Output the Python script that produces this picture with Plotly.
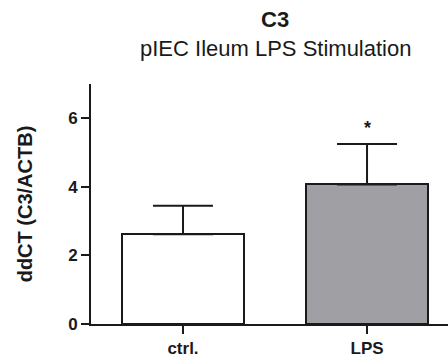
import plotly.graph_objects as go

# Group means and upper SEM for C3 expression
groups = ["ctrl.", "LPS"]
means = [2.62, 4.07]
sem = [0.83, 1.18]
bar_colors = ["#ffffff", "#a09fa4"]
y_ticks = [0, 2, 4, 6]
significance = ["", "*"]

FONT = "Liberation Sans, Arial, sans-serif"
INK = "#1a1a1a"

fig = go.Figure()
fig.add_trace(go.Bar(
    x=groups,
    y=means,
    width=0.664,
    marker=dict(color=bar_colors, line=dict(color=INK, width=2)),
    error_y=dict(type="data", array=sem, arrayminus=[0] * len(sem), symmetric=False,
                 color=INK, thickness=2, width=30),
    showlegend=False,
))

for g, m, s, mark in zip(groups, means, sem, significance):
    if mark:
        fig.add_annotation(x=g, y=m + s, text=mark, showarrow=False,
                           yanchor="bottom", yshift=4,
                           font=dict(family=FONT, size=18, color=INK, weight="bold"))

fig.add_annotation(xref="paper", yref="paper", x=(275 - 91) / 357, y=1, yshift=65,
                   text="C3", showarrow=False, xanchor="center", yanchor="middle",
                   font=dict(family=FONT, size=22, color=INK, weight="bold"))
fig.add_annotation(xref="paper", yref="paper", x=(275 - 91) / 357, y=1, yshift=36,
                   text="pIEC Ileum LPS Stimulation", showarrow=False,
                   xanchor="center", yanchor="middle",
                   font=dict(family=FONT, size=22, color=INK))

fig.update_layout(
    width=448, height=358,
    margin=dict(l=91, r=0, t=84, b=29),
    plot_bgcolor="white", paper_bgcolor="white",
    font=dict(family=FONT, color=INK),
    bargap=0,
)
fig.update_xaxes(
    range=[-0.5, 1.44], showline=True, linecolor=INK, linewidth=2,
    ticks="outside", ticklen=8, tickwidth=2, tickcolor=INK,
    tickfont=dict(family=FONT, size=17, color=INK, weight="bold"),
    showgrid=False, zeroline=False,
)
fig.update_yaxes(
    range=[0, 7], tickvals=y_ticks,
    showline=True, linecolor=INK, linewidth=2,
    ticks="outside", ticklen=8, tickwidth=2, tickcolor=INK,
    tickfont=dict(family=FONT, size=17, color=INK, weight="bold"),
    showgrid=False, zeroline=False,
    title=dict(text="ddCT (C3/ACTB)", font=dict(family=FONT, size=20, color=INK, weight="bold"),
               standoff=30),
)

fig.write_html("out.html")
